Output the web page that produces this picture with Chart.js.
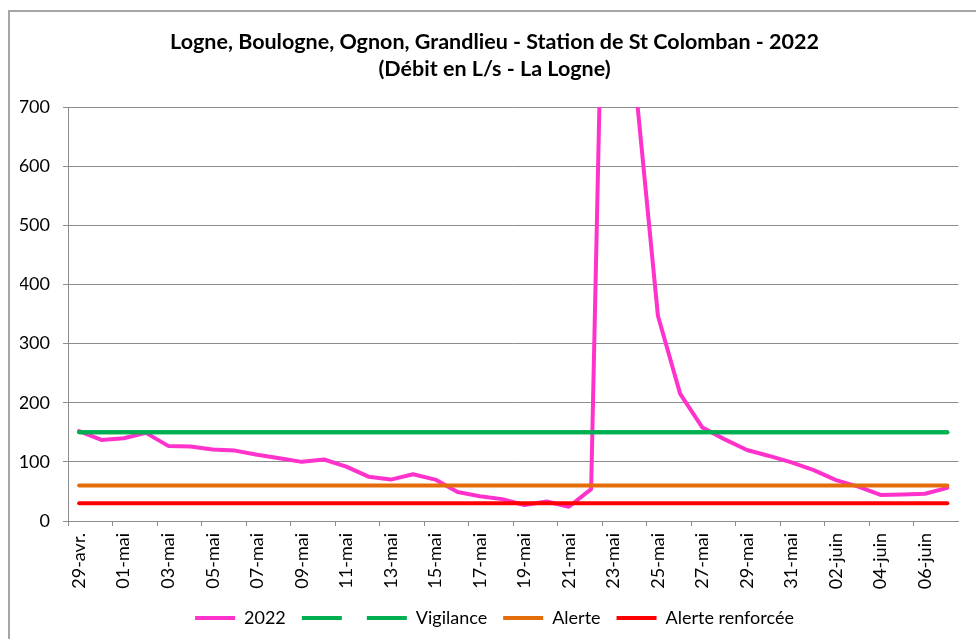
<!DOCTYPE html>
<html>
<head>
<meta charset="utf-8">
<script src="https://cdn.jsdelivr.net/npm/chart.js@4"></script>
<style>
  html, body { margin: 0; padding: 0; background: #fff; overflow: hidden; }
  body { width: 976px; height: 639px; position: relative; }
  #cadre { position: absolute; left: 8px; top: 10px; width: 1200px; height: 900px; border-left: 2px solid #a6a6a6; border-top: 2px solid #a6a6a6; }
  #debit { position: absolute; left: 0; top: 0; }
</style>
</head>
<body>
<div id="cadre"></div>
<canvas id="debit" width="976" height="639"></canvas>
<script>
// jours (29 avril -> 7 juin)
const jours = [
  "29-avr.", "30-avr.", "01-mai", "02-mai", "03-mai", "04-mai", "05-mai", "06-mai",
  "07-mai", "08-mai", "09-mai", "10-mai", "11-mai", "12-mai", "13-mai", "14-mai",
  "15-mai", "16-mai", "17-mai", "18-mai", "19-mai", "20-mai", "21-mai", "22-mai",
  "23-mai", "24-mai", "25-mai", "26-mai", "27-mai", "28-mai", "29-mai", "30-mai",
  "31-mai", "01-juin", "02-juin", "03-juin", "04-juin", "05-juin", "06-juin", "07-juin"
];

// debit en L/s - La Logne
const debit2022 = [
  152, 137, 140, 149, 127, 126, 121, 119, 112, 106,
  100, 104, 92, 75, 70, 79, 70, 49, 42, 37,
  27, 33, 24, 54, 1800, 735, 347, 215, 158, 138,
  120, 110, 99, 86, 69, 58, 44, 45, 46, 56
];

// seuils
const vigilance = [
  150, 150, 150, 150, 150, 150, 150, 150, 150, 150,
  150, 150, 150, 150, 150, 150, 150, 150, 150, 150,
  150, 150, 150, 150, 150, 150, 150, 150, 150, 150,
  150, 150, 150, 150, 150, 150, 150, 150, 150, 150
];
const alerte = [
  60, 60, 60, 60, 60, 60, 60, 60, 60, 60,
  60, 60, 60, 60, 60, 60, 60, 60, 60, 60,
  60, 60, 60, 60, 60, 60, 60, 60, 60, 60,
  60, 60, 60, 60, 60, 60, 60, 60, 60, 60
];
const alerteRenforcee = [
  30, 30, 30, 30, 30, 30, 30, 30, 30, 30,
  30, 30, 30, 30, 30, 30, 30, 30, 30, 30,
  30, 30, 30, 30, 30, 30, 30, 30, 30, 30,
  30, 30, 30, 30, 30, 30, 30, 30, 30, 30
];

const grisAxe = "#8c8c8c";

function serie(label, data, couleur, ordre) {
  return {
    label: label,
    data: data,
    borderColor: couleur,
    backgroundColor: couleur,
    borderWidth: 4,
    borderCapStyle: "round",
    borderJoinStyle: "round",
    pointRadius: 0,
    tension: 0,
    clip: 0,
    order: ordre,
  };
}

const ctx = document.getElementById("debit");

new Chart(ctx, {
  type: "line",
  data: {
    labels: jours,
    datasets: [
      serie("2022", debit2022, "#ff33cc", 5),
      serie("", vigilance, "#00b050", 4),
      serie("Vigilance", vigilance, "#00b050", 3),
      serie("Alerte", alerte, "#e46c0a", 2),
      serie("Alerte renforcée", alerteRenforcee, "#ff0000", 1),
    ],
  },
  options: {
    responsive: false,
    animation: false,
    devicePixelRatio: 1,
    layout: {
      padding: { left: 20, right: 7, top: 0, bottom: 2 },
    },
    font: { family: "Lato" },
    plugins: {
      title: {
        display: true,
        text: [
          "Logne, Boulogne, Ognon, Grandlieu - Station de St Colomban - 2022",
          "(Débit en L/s - La Logne)",
        ],
        color: "#000",
        font: { family: "Lato", size: 21.5, weight: "bold", lineHeight: "27px" },
        padding: { top: 29, bottom: 24 },
      },
      legend: {
        position: "bottom",
        labels: {
          color: "#000",
          font: { family: "Lato", size: 18 },
          usePointStyle: true,
          pointStyle: "line",
          pointStyleWidth: 40,
          padding: 16,
          sort: (a, b) => a.datasetIndex - b.datasetIndex,
        },
      },
      tooltip: { enabled: false },
    },
    scales: {
      x: {
        offset: true,
        afterFit: (scale) => {
          scale.height = 72;
        },
        border: { display: true, color: grisAxe, width: 1 },
        grid: {
          offset: true,
          drawOnChartArea: false,
          drawTicks: true,
          tickLength: 5,
          color: (c) => (c.index % 2 === 0 ? grisAxe : "rgba(0,0,0,0)"),
        },
        ticks: {
          autoSkip: false,
          minRotation: 90,
          maxRotation: 90,
          padding: 7,
          color: "#000",
          font: { family: "Lato", size: 18 },
          callback: function (val, i) {
            return i % 2 === 0 ? jours[i] : "";
          },
        },
      },
      y: {
        min: 0,
        max: 700,
        afterFit: (scale) => {
          scale.width = 48;
        },
        border: { display: true, color: grisAxe, width: 1 },
        grid: {
          color: grisAxe,
          lineWidth: 1,
          tickLength: 5,
        },
        ticks: {
          stepSize: 100,
          padding: 13,
          color: "#000",
          font: { family: "Lato", size: 18 },
        },
      },
    },
  },
});
</script>
</body>
</html>
